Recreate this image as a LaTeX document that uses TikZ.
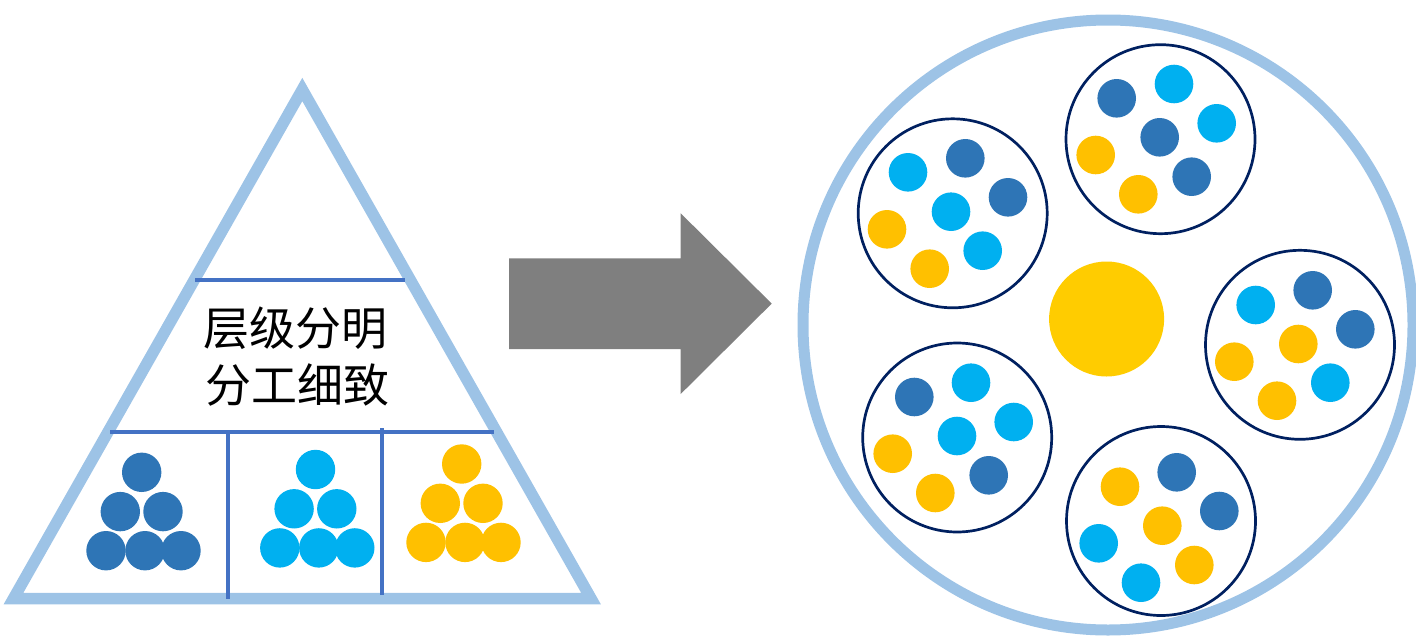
\documentclass[tikz,border=0pt]{standalone}
\usepackage{fontspec}
\usetikzlibrary{calc}
\newfontfamily\cjk{Noto Sans CJK SC}
\definecolor{lblue}{HTML}{9DC3E6}
\definecolor{divblue}{HTML}{4472C4}
\definecolor{dblue}{HTML}{2E75B6}
\definecolor{cyanb}{HTML}{00B0F0}
\definecolor{goldc}{HTML}{FFC000}
\definecolor{sun}{HTML}{FFCC00}
\definecolor{navy}{HTML}{002060}
\definecolor{arrowgray}{HTML}{7F7F7F}
\begin{document}
\begin{tikzpicture}[x=1pt,y=-1pt,
  dot/.style={circle, inner sep=0pt, minimum size=38.6pt, draw=none},
  ball/.style={circle, inner sep=0pt, minimum size=39.4pt, draw=none},
  grp/.style={circle, draw=navy, line width=2.7pt, minimum size=189pt, inner sep=0pt},
  outerring/.style={circle, draw=lblue, line width=11pt, minimum size=610pt, inner sep=0pt},
  tri/.style={draw=lblue, line width=11.5pt, line join=miter},
  divider/.style={draw=divblue, line width=4pt},
  lbl/.style={font=\cjk\fontsize{46pt}{57pt}\selectfont, inner sep=0pt, text=black},
  bigarrow/.style={fill=arrowgray}
]
\useasboundingbox (0,0) rectangle (1416,637);

% ---------- pyramid ----------
\coordinate (apex) at (302.3,89.5);
\coordinate (bl) at (13.5,598.5);
\coordinate (br) at (591,598.5);
\draw[tri] (apex) -- (br) -- (bl) -- cycle;

\draw[divider] (195,280) -- (405,280);
\draw[divider] (110,431.7) -- (494,431.7);
\draw[divider] (228.3,433) -- (228.3,598.5);
\draw[divider] (381.7,428.3) -- (381.7,595);

\node[lbl, anchor=base] (t1) at (295.5,345) {层级分明};
\node[lbl, anchor=base] (t2) at (297.5,402.2) {分工细致};

% balls in the pyramid
\foreach \cx/\cy/\col/\nm in {141.7/472.3/dblue/a, 315.5/469.5/cyanb/b, 461.7/464/goldc/c}{
  \node[ball, fill=\col] (\nm1) at (\cx,\cy) {};
  \node[ball, fill=\col] (\nm2) at ($(\cx,\cy)+(-21.4,39.3)$) {};
  \node[ball, fill=\col] (\nm3) at ($(\cx,\cy)+(21.3,39.3)$) {};
  \node[ball, fill=\col] (\nm4) at ($(\cx,\cy)+(-35.7,78.4)$) {};
  \node[ball, fill=\col] (\nm5) at ($(\cx,\cy)+(3.3,78.4)$) {};
  \node[ball, fill=\col] (\nm6) at ($(\cx,\cy)+(39.3,78.4)$) {};
}

% ---------- arrow ----------
\fill[bigarrow] (509,258.3) -- (680.7,258.3) -- (680.7,213.3) -- (771.7,303.6)
  -- (680.7,394) -- (680.7,349) -- (509,349) -- cycle;

% ---------- organisation circle ----------
\node[outerring] (ring) at (1108,325) {};
\node[circle, fill=sun, minimum size=115pt, inner sep=0pt] (core) at (1106.6,319) {};

\node[grp] (gT) at (1160.5,139.2) {};
\node[grp] (gUL) at (952.7,213.3) {};
\node[grp] (gR) at (1300,344.8) {};
\node[grp] (gLL) at (957.2,437.5) {};
\node[grp] (gB) at (1161,521) {};

\foreach \cx/\cy/\col [count=\i] in {
  1116.7/98.3/dblue, 1174/84/cyanb, 1216.7/123.3/cyanb, 1159.7/137.3/dblue,
  1095.7/155/goldc, 1191.7/176.7/dblue, 1138.3/194.3/goldc,
  908/172.3/cyanb, 965.3/158.3/dblue, 1008/197.3/dblue, 951/211.7/cyanb,
  887/229.3/goldc, 982.7/250.7/cyanb, 929.7/268.7/goldc,
  1255.7/305/cyanb, 1312.7/290.3/dblue, 1355.3/329.3/dblue, 1298.3/344/goldc,
  1234.3/361.7/goldc, 1330.3/382.7/cyanb, 1277/400.7/goldc,
  914.3/397/dblue, 971/382.7/cyanb, 1013.7/422/cyanb, 957/436/cyanb,
  892.7/453.7/goldc, 988.7/475.3/dblue, 935.3/493/goldc,
  1120/486.7/goldc, 1176.7/472.3/dblue, 1219.3/511/dblue, 1162.3/525.7/goldc,
  1098.7/543.3/cyanb, 1194.3/565/goldc, 1141/582.7/cyanb}{
  \node[dot, fill=\col] (m\i) at (\cx,\cy) {};
}
\end{tikzpicture}
\end{document}
